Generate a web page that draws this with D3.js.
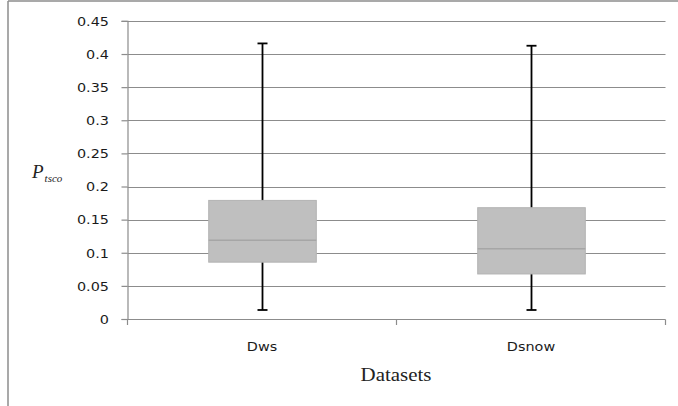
<!DOCTYPE html>
<html><head><meta charset="utf-8">
<script src="https://cdn.jsdelivr.net/npm/d3@7"></script>
<style>html,body{margin:0;padding:0;background:#fff;}svg{display:block;}</style>
</head><body>
<script>
const categories = ["Dws", "Dsnow"];
const whiskerMin = [0.0136, 0.0136];
const q1 = [0.0858, 0.068];
const median = [0.119, 0.106];
const q3 = [0.179, 0.168];
const whiskerMax = [0.416, 0.4125];
const yTicks = [0, 0.05, 0.1, 0.15, 0.2, 0.25, 0.3, 0.35, 0.4, 0.45];
const yTickLabels = ["0", "0.05", "0.1", "0.15", "0.2", "0.25", "0.3", "0.35", "0.4", "0.45"];
const xTitle = "Datasets";

const W = 678, H = 406, SX = 1.2;
const svg = d3.select("body").append("svg").attr("width", W).attr("height", H);

const y = d3.scaleLinear().domain([0, 0.45]).range([319, 20.9]);
const x = d3.scaleBand().domain(categories).range([127.5, 665.5]).padding(0);
const boxW = x.bandwidth() * 0.4;
const grid = "#8c8c8c";

// outer frame (top + left)
svg.append("line").attr("x1", 8).attr("x2", W).attr("y1", 1).attr("y2", 1).attr("stroke", grid).attr("stroke-width", 1.5);
svg.append("line").attr("x1", 8).attr("x2", 8).attr("y1", 1).attr("y2", H).attr("stroke", grid).attr("stroke-width", 1.5);

// gridlines
svg.append("g").selectAll("line").data(yTicks.filter(d => d > 0)).join("line")
  .attr("x1", 127.5).attr("x2", 665.5)
  .attr("y1", d => Math.round(y(d)) + 0.5).attr("y2", d => Math.round(y(d)) + 0.5)
  .attr("stroke", grid).attr("stroke-width", 1.2);

// y axis
const yAxis = d3.axisLeft(y).tickValues(yTicks).tickSize(6).tickPadding(6)
  .tickFormat((d, i) => yTickLabels[i]);
const gy = svg.append("g").attr("transform", "translate(127.5,0)").call(yAxis);
gy.select(".domain").attr("stroke", grid).attr("stroke-width", 1.2);
gy.selectAll(".tick line").attr("stroke", grid).attr("stroke-width", 1.2);
gy.selectAll(".tick text").each(function() {
  const t = d3.select(this);
  t.attr("x", null).attr("dy", null)
   .attr("transform", `translate(-18.5,4.3) scale(${SX},1)`)
   .attr("fill", "#1a1a1a").style("font-family", "DejaVu Sans, Verdana, sans-serif").style("font-size", "12px");
});

// x axis
const gx = svg.append("g");
gx.append("line").attr("x1", 127.5).attr("x2", 665.5).attr("y1", 319.5).attr("y2", 319.5).attr("stroke", grid).attr("stroke-width", 1.2);
const bounds = [127.5, ...categories.map(c => x(c) + x.bandwidth())];
gx.selectAll("line.tk").data(bounds).join("line").attr("class", "tk")
  .attr("x1", d => d).attr("x2", d => d).attr("y1", 319.5).attr("y2", 325)
  .attr("stroke", grid).attr("stroke-width", 1.2);
gx.selectAll("text").data(categories).join("text")
  .attr("transform", d => `translate(${x(d) + x.bandwidth() / 2},351) scale(${SX},1)`)
  .attr("text-anchor", "middle").attr("fill", "#1a1a1a")
  .style("font-family", "DejaVu Sans, Verdana, sans-serif").style("font-size", "12px")
  .text(d => d);

// boxes
const g = svg.append("g");
categories.forEach((c, i) => {
  const cx = Math.round(x(c) + x.bandwidth() / 2) + 0.5;
  g.append("line").attr("x1", cx).attr("x2", cx).attr("y1", y(whiskerMin[i])).attr("y2", y(whiskerMax[i]))
    .attr("stroke", "#000").attr("stroke-width", 1.8);
  [whiskerMin[i], whiskerMax[i]].forEach(v => {
    g.append("line").attr("x1", cx - 5).attr("x2", cx + 5).attr("y1", y(v)).attr("y2", y(v))
      .attr("stroke", "#000").attr("stroke-width", 1.8);
  });
  g.append("rect").attr("x", cx - boxW / 2).attr("width", boxW)
    .attr("y", y(q3[i])).attr("height", y(q1[i]) - y(q3[i]))
    .attr("fill", "#bfbfbf").attr("stroke", "#b3b3b3").attr("stroke-width", 1);
  g.append("line").attr("x1", cx - boxW / 2).attr("x2", cx + boxW / 2)
    .attr("y1", y(median[i])).attr("y2", y(median[i]))
    .attr("stroke", "#a6a6a6").attr("stroke-width", 1.5);
});

// axis titles
svg.append("text").attr("transform", `translate(396,381) scale(1.1,1)`).attr("text-anchor", "middle")
  .attr("fill", "#222").style("font-family", "Liberation Serif, Times New Roman, serif").style("font-size", "19px")
  .text(xTitle);
const yt = svg.append("text").attr("transform", "translate(32,178)")
  .attr("fill", "#222").style("font-family", "Liberation Serif, Times New Roman, serif").style("font-style", "italic");
yt.append("tspan").style("font-size", "19px").text("P");
yt.append("tspan").style("font-size", "11px").attr("dy", 4).attr("dx", 1).text("tsco");
</script>
</body></html>
